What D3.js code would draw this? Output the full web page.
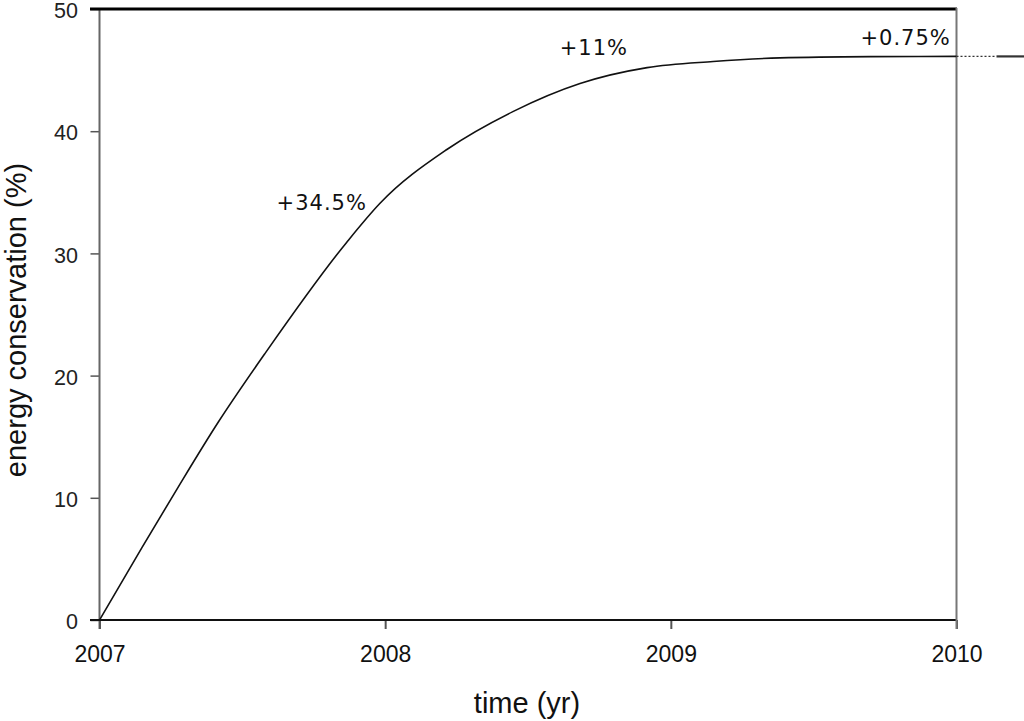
<!DOCTYPE html>
<html><head><meta charset="utf-8">
<script src="https://cdn.jsdelivr.net/npm/d3@7"></script>
<style>body{margin:0;background:#fff}svg{display:block}</style>
</head><body>
<svg id="c" width="1024" height="721"></svg>
<script>
const years = [2007, 2007.148, 2007.276, 2007.416, 2007.579, 2007.865, 2007.982, 2008.216, 2008.447, 2008.682, 2008.917, 2009.148, 2009.382, 2009.7, 2010];
const conservation = [0, 5.9, 10.9, 16.2, 21.8, 30.9, 34.1, 38.5, 41.6, 43.9, 45.2, 45.7, 46.0, 46.1, 46.12];
const extYears = [2010, 2010.14, 2010.24];
const extValues = [46.12, 46.12, 46.12];
const xTicks = [2007, 2008, 2009, 2010];
const yTicks = [0, 10, 20, 30, 40, 50];
const annotations = [
  {year: 2007.936, value: 33.55, text: "+34.5%"},
  {year: 2008.85, value: 46.24, text: "+11%"},
  {year: 2009.98, value: 47.05, text: "+0.75%"}
];

const svg = d3.select("#c");
const x = d3.scaleLinear().domain([2007, 2010]).range([99.5, 956.5]);
const y = d3.scaleLinear().domain([0, 50]).range([620, 9]);
const sans = "Liberation Sans, Arial, sans-serif";

// left axis
const ya = svg.append("g").attr("transform", "translate(99.5,0)")
  .call(d3.axisLeft(y).tickValues(yTicks).tickSize(9).tickPadding(12.5).tickFormat(d3.format("d")));
ya.select(".domain").remove();
ya.selectAll(".tick line").attr("stroke", "#555").attr("stroke-width", 1.5);
ya.selectAll(".tick text").attr("font-family", sans).attr("font-size", 21.5).attr("dy", "0.4em").attr("fill", "#222");
svg.append("line").attr("x1", 99.5).attr("x2", 99.5).attr("y1", 9).attr("y2", 629).attr("stroke", "#666").attr("stroke-width", 2);

// bottom axis
const xa = svg.append("g").attr("transform", "translate(0,620)")
  .call(d3.axisBottom(x).tickValues(xTicks).tickSize(9).tickPadding(17).tickFormat(d3.format("d")));
xa.select(".domain").remove();
xa.selectAll(".tick line").attr("stroke", "#555").attr("stroke-width", 2);
xa.selectAll(".tick text").attr("font-family", sans).attr("font-size", 23).attr("fill", "#111");
svg.append("line").attr("x1", 90).attr("x2", 956).attr("y1", 620).attr("y2", 620).attr("stroke", "#111").attr("stroke-width", 2);

// top and right frame
svg.append("line").attr("x1", 90).attr("x2", 957).attr("y1", 9).attr("y2", 9).attr("stroke", "#000").attr("stroke-width", 3);
svg.append("line").attr("x1", 956.5).attr("x2", 956.5).attr("y1", 8).attr("y2", 629).attr("stroke", "#777").attr("stroke-width", 2);

// curve
const line = d3.line().x(d => x(d[0])).y(d => y(d[1])).curve(d3.curveMonotoneX);
svg.append("path").datum(years.map((t, i) => [t, conservation[i]]))
  .attr("d", line).attr("fill", "none").attr("stroke", "#111").attr("stroke-width", 1.6);

// extension beyond 2010
svg.append("line").attr("x1", x(extYears[0])).attr("x2", x(extYears[1]))
  .attr("y1", y(extValues[0])).attr("y2", y(extValues[1]))
  .attr("stroke", "#333").attr("stroke-width", 1.2).attr("stroke-dasharray", "2,2");
svg.append("line").attr("x1", x(extYears[1])).attr("x2", x(extYears[2]))
  .attr("y1", y(extValues[1])).attr("y2", y(extValues[2]))
  .attr("stroke", "#333").attr("stroke-width", 2.2);

// annotations
svg.selectAll("text.ann").data(annotations).enter().append("text").attr("class", "ann")
  .attr("x", d => x(d.year)).attr("y", d => y(d.value))
  .attr("text-anchor", "end").attr("font-family", "DejaVu Sans, Verdana, sans-serif")
  .attr("font-size", 21).attr("letter-spacing", 1).attr("fill", "#111").text(d => d.text);

// axis titles
svg.append("text").attr("x", 527).attr("y", 713).attr("text-anchor", "middle")
  .attr("font-family", sans).attr("font-size", 29).attr("fill", "#111").text("time (yr)");
svg.append("text").attr("transform", "translate(26,320) rotate(-90)").attr("text-anchor", "middle")
  .attr("font-family", sans).attr("font-size", 29).attr("fill", "#111").text("energy conservation (%)");
</script>
</body></html>
